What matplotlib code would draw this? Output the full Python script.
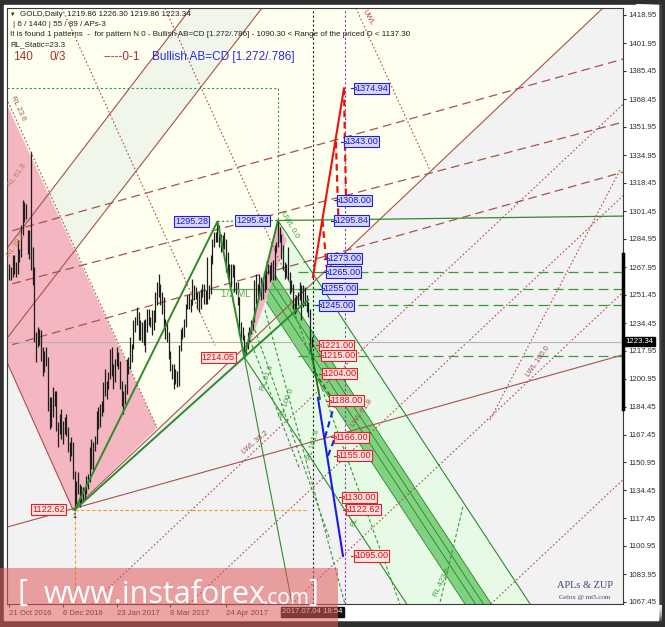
import matplotlib
matplotlib.use('Agg')
import matplotlib.pyplot as plt
import numpy as np
from matplotlib.patches import Polygon, Rectangle
from matplotlib.colors import LinearSegmentedColormap

plt.rcParams['font.family'] = ['Liberation Sans', 'DejaVu Sans']

# daily bars, 21 Oct 2016 .. 4 Jul 2017 (bar index = trading day)
highs = [1270, 1268, 1275, 1275, 1271, 1284, 1279, 1293, 1308, 1307,
         1306, 1290, 1290, 1337, 1280, 1268, 1229, 1232, 1231, 1230,
         1220, 1218, 1220, 1214, 1190, 1190, 1196, 1194, 1194, 1175,
         1180, 1183, 1176, 1178, 1180, 1172, 1163, 1166, 1163, 1146,
         1140, 1145, 1138, 1137, 1136, 1136, 1143, 1144, 1160, 1165,
         1163, 1167, 1182, 1184, 1186, 1188, 1199, 1207, 1200, 1205,
         1219, 1220, 1210, 1213, 1220, 1217, 1212, 1200, 1194, 1198,
         1213, 1214, 1226, 1222, 1236, 1238, 1244, 1241, 1236, 1235,
         1236, 1237, 1243, 1243, 1238, 1242, 1242, 1253, 1259, 1264,
         1258, 1253, 1250, 1237, 1235, 1229, 1218, 1210, 1210, 1207,
         1206, 1221, 1231, 1232, 1237, 1246, 1251, 1252, 1249, 1261,
         1257, 1256, 1253, 1253, 1255, 1258, 1258, 1254, 1274, 1257,
         1275, 1285, 1289, 1289, 1295.28, 1293, 1288, 1287, 1289, 1285,
         1277, 1270, 1270, 1270, 1269, 1259, 1259, 1250, 1235, 1232,
         1227, 1223, 1229, 1232, 1236, 1238, 1260, 1264, 1258, 1264,
         1262, 1260, 1266, 1269, 1270, 1269, 1271, 1272, 1281, 1283,
         1295.84, 1292, 1288, 1281, 1271, 1270, 1280, 1265, 1260, 1258,
         1250, 1251, 1253, 1259, 1257, 1257, 1256, 1251, 1247, 1243,
         1226.3]
lows = [1260, 1260, 1262, 1264, 1262, 1264, 1271, 1274, 1287, 1295,
        1297, 1276, 1273, 1266, 1257, 1223, 1211, 1220, 1221, 1212,
        1203, 1205, 1209, 1182, 1171, 1172, 1178, 1185, 1170, 1160,
        1168, 1165, 1162, 1168, 1167, 1157, 1152, 1155, 1141, 1122.62,
        1126, 1132, 1124, 1126, 1127, 1129, 1132, 1135, 1139, 1147,
        1146, 1158, 1162, 1171, 1172, 1179, 1181, 1191, 1189, 1195,
        1201, 1203, 1195, 1199, 1209, 1207, 1195, 1185, 1180, 1186,
        1192, 1204, 1207, 1211, 1219, 1229, 1233, 1224, 1224, 1223,
        1221, 1217, 1229, 1233, 1232, 1227, 1230, 1235, 1245, 1250,
        1245, 1240, 1231, 1225, 1223, 1213, 1206, 1201, 1195, 1198,
        1196, 1197, 1218, 1225, 1226, 1232, 1243, 1243, 1241, 1245,
        1248, 1249, 1243, 1241, 1243, 1250, 1246, 1246, 1246, 1249,
        1252, 1270, 1280, 1283, 1283, 1280, 1277, 1277, 1279, 1265,
        1262, 1260, 1256, 1262, 1253, 1252, 1245, 1227, 1225, 1224,
        1214.05, 1216, 1219, 1223, 1228, 1230, 1235, 1246, 1248, 1252,
        1248, 1249, 1253, 1255, 1264, 1259, 1260, 1260, 1260, 1277,
        1280, 1283, 1273, 1266, 1261, 1262, 1260, 1252, 1253, 1243,
        1240, 1241, 1245, 1248, 1236, 1244, 1245, 1241, 1238, 1218,
        1219.86]

date_ticks = [0, 32, 64, 96, 129]
date_labels = ['21 Oct 2016', '6 Dec 2016', '23 Jan 2017', '8 Mar 2017', '24 Apr 2017']
price_ticks = [1418.95, 1401.95, 1385.45, 1368.45, 1351.95, 1334.95, 1318.45,
               1301.45, 1284.95, 1267.95, 1251.45, 1234.45, 1217.95, 1200.95,
               1184.45, 1167.45, 1150.95, 1134.45, 1117.45, 1100.95, 1083.95, 1067.45]
last_price = 1223.34
now_bar = 180.6
target_bar = 200

# pattern points (bar, price)
pattern = [(39, 1122.62), (124, 1295.28), (140, 1214.05), (160, 1295.84)]

# projection levels
up_levels = [1374.94, 1343.00, 1308.00, 1295.84, 1273.00, 1265.00, 1255.00, 1245.00]
up_label_x = [205.8, 199.9, 195.7, 193.9, 189.8, 189.2, 186.8, 185.0]
down_levels = [1221.00, 1215.00, 1204.00, 1188.00, 1166.00, 1155.00, 1130.00, 1122.62, 1095.00]
down_label_x = [185.0, 186.2, 186.8, 191.0, 193.9, 195.7, 198.7, 201.1, 205.8]
green_dash_levels = [1265, 1255, 1245, 1215]

# andrews pitchfork / fibo lines, given by two points (bar, price)
brown_solid = [((-0.7, 1280.0), (108.2, 1423.1)),
               ((-0.7, 1226.1), (150.5, 1423.1)),
               ((-0.7, 1112.4), (365.4, 1215.4))]
main_diag = ((38, 1122.62), (353.5, 1423.1))
left_edge = ((-1.3, 1211.0), (38, 1122.62))
brown_dashed = [((-0.7, 1289.0), (363.6, 1392.0)),
                ((-0.7, 1257.3), (363.6, 1354.3)),
                ((-0.7, 1220.8), (363.6, 1324.3))]
rl_dotted = [((-0.7, 1366.9), (88, 1171.7)),
             ((31.4, 1423.0), (122.5, 1221.0)),
             ((92.7, 1423.0), (173, 1245.2)),
             ((206.4, 1423.0), (250.5, 1326.0))]
wl_anchor = [(220.7, 1228.5), (107.6, 1066.8), (232.6, 1127.3), (288, 1067.4)]
wl_slope = 0.946
extra_dotted = ((286.2, 1176.4), (363.6, 1326.0))
fork_slope = -1.53
band_top = (150.5, 1275.0)
band_bot = (150.5, 1251.0)
green_rl = [((143.3, 1224.4), (173.1, 1146.6)),
            ((146.3, 1230.3), (191.0, 1104.6)),
            ((152.3, 1242.3), (199.9, 1066.2)),
            ((167.1, 1248.3), (232.6, 1066.2)),
            ((270.1, 1124.4), (256.4, 1066.8))]

X0, X1 = -1.3, 365.4
Y0, Y1 = 1066.2, 1423.1


def full(p, q):
    s = (q[1] - p[1]) / (q[0] - p[0])
    xs = np.array([-60, 450])
    return xs, p[1] + s * (xs - p[0])


def ray(p, s, x_end):
    return [p[0], x_end], [p[1], p[1] + s * (x_end - p[0])]


fig = plt.figure(figsize=(6.65, 6.27), dpi=100)
fig.patch.set_facecolor('#2f2f2f')

# window frame
bg = fig.add_axes([0, 0, 1, 1], zorder=-10)
bg.set_xlim(0, 665)
bg.set_ylim(627, 0)
bg.axis('off')
bg.add_patch(Rectangle((4, 5), 654, 615, color='white'))
cm_r = LinearSegmentedColormap.from_list('r', ['#ffffff', '#d8d8d8', '#8a8a8a', '#3a3a3a'])
bg.imshow(np.linspace(0, 1, 60)[None, :], cmap=cm_r, aspect='auto',
          extent=(636, 662, 620, 4))
cm_b = LinearSegmentedColormap.from_list('b', ['#f4f4f4', '#d0d0d0', '#9a9a9a', '#404040'])
bg.imshow(np.linspace(0, 1, 40)[:, None], cmap=cm_b, aspect='auto',
          extent=(4, 662, 622, 605))

ax = fig.add_axes([7 / 665, 1 - 604 / 627, 616 / 665, 596 / 627])
ax.set_facecolor('#f2f2f2')
ax.set_xlim(X0, X1)
ax.set_ylim(Y0, Y1)

# shaded zones
ax.add_patch(Polygon([(X0, Y1), (main_diag[1][0], Y1), main_diag[0], left_edge[0]],
                     closed=True, fc='#fffff0', ec='none', zorder=0.2))
xs1, ys1 = full(*brown_solid[0])
xs2, ys2 = full(*brown_solid[1])
ax.add_patch(Polygon([(xs1[0], ys1[0]), (xs1[1], ys1[1]), (xs2[1], ys2[1]), (xs2[0], ys2[0])],
                     closed=True, fc='#f1f6ea', ec='none', zorder=0.25))
ax.add_patch(Polygon([(X0, 1365.0), rl_dotted[0][1], main_diag[0], left_edge[0]],
                     closed=True, fc='#f4b6c0', ec='none', zorder=0.3))
lo_end = pattern[2][0] + (pattern[2][1] - 1050) / -fork_slope
up_end = pattern[3][0] + (pattern[3][1] - 1050) / -fork_slope
ax.add_patch(Polygon([pattern[3], pattern[2], (lo_end, 1050), (up_end, 1050)],
                     closed=True, fc='#e6fae6', ec='none', zorder=0.3))
bx = np.array([153, 330])
ax.fill_between(bx, band_bot[1] + fork_slope * (bx - band_bot[0]),
                band_top[1] + fork_slope * (bx - band_top[0]),
                color='#7fd27f', lw=0, zorder=0.4)
for f in (0.0, 0.4, 0.7, 1.0):
    yy = band_bot[1] + f * (band_top[1] - band_bot[1]) + fork_slope * (bx - band_top[0])
    ax.plot(bx, yy, color='#2e7d2e', lw=0.6, zorder=0.45)
ax.add_patch(Polygon([pattern[3], (165.3, 1284), (146.3, 1230), pattern[2]],
                     closed=True, fc='#f2b4c2', ec='none', zorder=0.5))

# brown pitchfork lines
bc = '#a8524a'
for p, q in brown_solid:
    ax.plot(*full(p, q), color=bc, lw=0.8, zorder=1)
ax.plot([main_diag[0][0], main_diag[1][0]], [main_diag[0][1], main_diag[1][1]], color=bc, lw=0.8, zorder=1)
ax.plot([left_edge[0][0], left_edge[1][0]], [left_edge[0][1], left_edge[1][1]], color=bc, lw=0.8, zorder=1)
for p, q in brown_dashed:
    ax.plot(*full(p, q), color=bc, lw=0.9, dashes=(7, 4), zorder=1)
for p, q in rl_dotted:
    ax.plot([p[0], q[0]], [p[1], q[1]], color=bc, lw=0.8, dashes=(1.5, 2), zorder=1)
for p in wl_anchor:
    xs = np.array([-60, 450])
    ax.plot(xs, p[1] + wl_slope * (xs - p[0]), color=bc, lw=0.8, dashes=(1.5, 2), zorder=1)
ax.plot([extra_dotted[0][0], extra_dotted[1][0]], [extra_dotted[0][1], extra_dotted[1][1]],
        color=bc, lw=0.8, dashes=(1.5, 2), zorder=1)

# orange level of point 1 and green level of 1374.94
ax.plot([pattern[0][0], 178], [pattern[0][1]] * 2, color='#f0a030', lw=0.8, dashes=(3, 2), zorder=1)
ax.plot([pattern[0][0]] * 2, [pattern[0][1], Y0], color='#f0a030', lw=0.8, dashes=(3, 2), zorder=1)
ax.plot([X0, pattern[3][0]], [up_levels[0]] * 2, color='#3a9a3a', lw=0.8, dashes=(2, 2), zorder=1)
ax.plot([pattern[3][0]] * 2, [up_levels[0], pattern[3][1]], color='#3a9a3a', lw=0.8, dashes=(2, 2), zorder=1)

# current price / time lines
ax.axhline(last_price, color='#b4b4b4', lw=0.8, zorder=1)
ax.axvline(now_bar, color='#202020', lw=0.8, dashes=(2, 2), zorder=1)
ax.axvline(target_bar, color='#9b30d0', lw=0.8, dashes=(2, 2), zorder=1)

# green pattern structure
gc = '#2e8b2e'
ax.plot([p[0] for p in pattern], [p[1] for p in pattern], color=gc, lw=1.4, zorder=3)
ax.plot([pattern[0][0], 178], [pattern[0][1], pattern[0][1] + (178 - pattern[0][0]) *
        (pattern[2][1] - pattern[0][1]) / (pattern[2][0] - pattern[0][0])], color=gc, lw=1.4, zorder=3)
ax.plot(*ray(pattern[3], fork_slope, 330), color=gc, lw=0.8, zorder=1.2)
ax.plot(*ray(pattern[2], fork_slope, 330), color=gc, lw=0.8, zorder=1.2)
ax.plot([pattern[2][0], 170], [pattern[2][1], 1058], color=gc, lw=0.8, zorder=1.2)
ax.plot([pattern[3][0], X1], [pattern[3][1], 1298.5], color=gc, lw=0.9, zorder=1.2)
ax.plot([pattern[1][0], pattern[3][0]], [pattern[1][1], pattern[3][1]], color=gc, lw=0.8, dashes=(2, 2), zorder=1.2)
ax.plot([119.6, 183.2], [1254.9, 1254.9], color='#5aa85a', lw=0.9, zorder=1.2)
for lv in green_dash_levels:
    ax.plot([172, X1], [lv, lv], color='#3a9a3a', lw=0.9, dashes=(8, 4), zorder=1.2)
for p, q in green_rl:
    ax.plot([p[0], q[0]], [p[1], q[1]], color='#3a9a3a', lw=0.8, dashes=(3, 2), zorder=1.2)

# price bars
ax.vlines(np.arange(len(highs)), lows, highs, color='#1e1e1e', lw=0.9, zorder=2.5)

# projections
rc = '#ee1111'
ax.plot([180.8, 199.3], [1262, up_levels[0]], color=rc, lw=1.5, zorder=4)
ax.plot([199.3, 200.5], [up_levels[0], 1308], color=rc, lw=1.6, dashes=(3, 2), zorder=4)
ax.plot([194.5, 196.0], [1343, 1296], color=rc, lw=1.6, dashes=(3, 2), zorder=4)
ax.plot([186.5, 189.0], [1296, 1268], color=rc, lw=1.6, dashes=(3, 2), zorder=4)
blc = '#1a1ae6'
ax.plot([183.8, 198.7], [1189.6, 1095], color=blc, lw=1.5, zorder=4)
ax.plot([188.0, 194.0], [1166, 1187], color=blc, lw=1.5, dashes=(3, 2), zorder=4)
ax.plot([189.8, 194.0], [1155, 1166], color=blc, lw=1.5, dashes=(3, 2), zorder=4)
ax.plot([179, 185], [1222, 1189], color='#1f6f1f', lw=1.3, zorder=4)
ax.plot([182, 193], [1205, 1188], color='#1f6f1f', lw=1.1, dashes=(3, 2), zorder=4)


def tag(x, y, s, blue, ha='left'):
    if blue:
        fc, ec, tc = '#d6d6ff', '#2222cc', '#1c1cc0'
    else:
        fc, ec, tc = '#ffe2e2', '#e02222', '#d01010'
    ax.text(x, y, s, fontsize=6.6, color=tc, ha=ha, va='center', zorder=6,
            bbox=dict(boxstyle='square,pad=0.12', fc=fc, ec=ec, lw=0.8))
    if ha == 'left':
        ax.plot([x - 2.2, x], [y, y], color=ec, lw=0.8, zorder=6)
        ax.plot([x], [y], 's', ms=2, mfc='white', mec=ec, mew=0.6, zorder=6)


for x, lv in zip(up_label_x, up_levels):
    tag(x, lv, f'{lv:.2f}', True)
for x, lv in zip(down_label_x, down_levels):
    tag(x, lv, f'{lv:.2f}', False)
tag(118.5, pattern[1][1], f'{pattern[1][1]:.2f}', True, 'right')
tag(154.6, pattern[3][1], f'{pattern[3][1]:.2f}', True, 'right')
tag(134.4, pattern[2][1], f'{pattern[2][1]:.2f}', False, 'right')
tag(33.2, pattern[0][1], f'{pattern[0][1]:.2f}', False, 'right')
ax.text(pattern[0][0], pattern[0][1] - 2, '1', fontsize=5, ha='center', va='top', zorder=6)

# line captions
caps = [(5.2, 1363.2, 'RL 23.6', -65, '#a05a4a'), (4.6, 1323.2, 'RL 61.8', 55, '#c08050'),
        (4.0, 1281.2, 'RL 38.2', 55, '#c08050'), (213.5, 1417.2, 'UWL', -60, '#c04040'),
        (167, 1293.2, 'UWL 0.0', -60, '#3a9a3a'), (146.3, 1162.7, 'LWL 38.2', 40, '#a05050'),
        (210, 1180.6, 'LWL 61.8', 55, '#a05050'), (314.8, 1211.2, 'LWL 100.0', 55, '#a05050'),
        (153.5, 1201.6, 'RL 61.8', 70, '#3a9a3a'), (165.4, 1186.6, 'RL 100.0', 70, '#3a9a3a'),
        (181.4, 1161.5, 'RL 161.8', 75, '#3a9a3a'), (205.8, 1115.4, 'RL', 70, '#3a9a3a'),
        (257.6, 1079.4, 'RL 423.6', 65, '#3a9a3a')]
for x, y, s, r, c in caps:
    ax.text(x, y, s, fontsize=5.5, color=c, rotation=r, ha='center', va='center', zorder=5)
ax.text(135, 1252, '1/2 ML', fontsize=7, color='#5aa85a', ha='center', va='center', zorder=5)

# axes
for sp in ax.spines.values():
    sp.set_color('#3a3a3a')
    sp.set_linewidth(0.8)
ax.yaxis.tick_right()
ax.set_yticks(price_ticks)
ax.set_yticklabels([f'{v:.2f}' for v in price_ticks])
ax.set_xticks(date_ticks)
ax.set_xticklabels(date_labels, ha='left')
ax.tick_params(axis='both', labelsize=5.6, length=2, pad=2, colors='#303030')
ax.plot([1, 1], [1183, 1276], transform=ax.get_yaxis_transform(), color='black', lw=2.5,
        clip_on=False, zorder=7)
ax.text(1.004, last_price, f'{last_price:.2f}', transform=ax.get_yaxis_transform(), fontsize=5.6,
        color='white', ha='left', va='center', zorder=8,
        bbox=dict(boxstyle='square,pad=0.15', fc='black', ec='black'))
ax.text(now_bar, -0.0075, '2017.07.04 18:54', transform=ax.get_xaxis_transform(), fontsize=5.6,
        color='white', ha='center', va='top', zorder=8,
        bbox=dict(boxstyle='square,pad=0.15', fc='#111111', ec='#111111'))

# overlay: header texts and watermark
ov = fig.add_axes([0, 0, 1, 1], zorder=20)
ov.set_xlim(0, 665)
ov.set_ylim(627, 0)
ov.axis('off')
ov.patch.set_alpha(0)
hc = '#202020'
ov.text(10, 14, '▼', fontsize=4, color=hc, va='center')
ov.text(20, 14, 'GOLD,Daily  1219.86 1226.30 1219.86 1223.34', fontsize=5.8, color=hc, va='center')
ov.text(13, 24, '| 6 / 1440 | 55 / 89 / APs-3', fontsize=5.8, color=hc, va='center')
ov.text(10, 35, 'It is found 1 patterns  -  for pattern N 0 - Bullish AB=CD [1.272/.786] - '
        '1090.30 < Range of the priced D < 1137.30', fontsize=5.8, color=hc, va='center')
ov.text(10, 45, 'RL_Static=23.3', fontsize=5.8, color=hc, va='center')
ov.text(13, 57, '140', fontsize=8.5, color='#b03030', va='center')
ov.text(50, 57, '0/3', fontsize=8.5, color='#b03030', va='center')
ov.text(103, 57, '-----0-1', fontsize=8.5, color='#b03030', va='center')
ov.text(152, 57, 'Bullish AB=CD [1.272/.786]', fontsize=8.5, color='#2a2ae0', va='center')
ov.text(585, 586, 'APLs & ZUP', fontsize=7.5, color='#3c4a6a', ha='center', va='center',
        family=['Liberation Serif', 'DejaVu Serif'])
ov.text(585, 597, 'Gelox @ mt5.com', fontsize=5, color='#3c4a6a', ha='center', va='center',
        family=['Liberation Serif', 'DejaVu Serif'])
ov.add_patch(Rectangle((0, 568), 338, 59, fc='#e05a5a', ec='none', alpha=0.55))
wm = dict(color='white', va='center', family=['Open Sans', 'DejaVu Sans'])
ov.text(18, 593, '[', fontsize=22, **wm)
ov.text(44, 595, 'www.instaforex', fontsize=22, **wm)
ov.text(262, 599, '.com', fontsize=15, **wm)
ov.text(308, 593, ']', fontsize=22, **wm)

fig.savefig('out.png', dpi=100, facecolor=fig.get_facecolor())
